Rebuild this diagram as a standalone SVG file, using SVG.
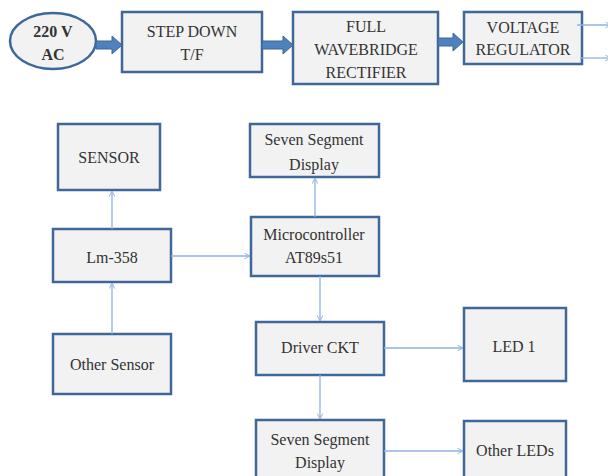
<svg xmlns="http://www.w3.org/2000/svg" width="608" height="476" viewBox="0 0 608 476">
<defs>
<style>
.box{fill:#f2f2f2;stroke:#3e6899;stroke-width:2.5}
.t{font-family:'Liberation Serif','DejaVu Serif',serif;font-size:16px;fill:#333;text-anchor:middle}
.b{font-weight:bold}
.c{fill:none;stroke:#8db3e2;stroke-width:1.3}
.fat{fill:#4f81bd;stroke:#3b679c;stroke-width:1}
</style>
<marker id="ah" viewBox="0 0 10 10" refX="9" refY="5" markerWidth="7" markerHeight="7" markerUnits="userSpaceOnUse" orient="auto">
<path d="M1,1 L9,5 L1,9" fill="none" stroke="#8db3e2" stroke-width="1.4"/>
</marker>
</defs>
<rect width="608" height="476" fill="#ffffff"/>
<g id="ac">
<ellipse cx="53" cy="41" rx="43" ry="28" class="box"/>
<text class="t b" x="53" y="37" font-family="Liberation Serif">220 V</text>
<text class="t b" x="53" y="60" font-family="Liberation Serif">AC</text>
</g>
<g id="stepdown">
<rect x="122" y="12" width="140" height="60" class="box"/>
<text class="t" x="192" y="37">STEP DOWN</text>
<text class="t" x="192" y="60">T/F</text>
</g>
<g id="rectifier">
<rect x="293" y="12" width="145" height="72" class="box"/>
<text class="t" x="366" y="32">FULL</text>
<text class="t" x="366" y="55">WAVEBRIDGE</text>
<text class="t" x="366" y="78">RECTIFIER</text>
</g>
<g id="regulator">
<rect x="464" y="12" width="118" height="52" class="box"/>
<text class="t" x="523" y="33">VOLTAGE</text>
<text class="t" x="523" y="55">REGULATOR</text>
</g>
<g id="sensor">
<rect x="58" y="124" width="102" height="66" class="box"/>
<text class="t" x="109" y="163">SENSOR</text>
</g>
<g id="ssd1">
<rect x="250" y="124" width="129" height="53" class="box"/>
<text class="t" x="314" y="145">Seven Segment</text>
<text class="t" x="314" y="170">Display</text>
</g>
<g id="lm358">
<rect x="53" y="229" width="118" height="53" class="box"/>
<text class="t" x="112" y="263">Lm-358</text>
</g>
<g id="mcu">
<rect x="251" y="217" width="128" height="59" class="box"/>
<text class="t" x="314" y="240">Microcontroller</text>
<text class="t" x="314" y="263">AT89s51</text>
</g>
<g id="othersensor">
<rect x="53" y="334" width="118" height="60" class="box"/>
<text class="t" x="112" y="370">Other Sensor</text>
</g>
<g id="driver">
<rect x="256" y="322" width="128" height="53" class="box"/>
<text class="t" x="320" y="353">Driver CKT</text>
</g>
<g id="led1">
<rect x="464" y="308" width="102" height="73" class="box"/>
<text class="t" x="514" y="352">LED 1</text>
</g>
<g id="ssd2">
<rect x="256" y="420" width="128" height="62" class="box"/>
<text class="t" x="320" y="445">Seven Segment</text>
<text class="t" x="320" y="468">Display</text>
</g>
<g id="otherleds">
<rect x="464" y="421" width="102" height="62" class="box"/>
<text class="t" x="515" y="456">Other LEDs</text>
</g>
<g id="connectors">
<path class="fat" d="M96,41 H112 V36 L122,45 L112,54 V49 H96 Z"/>
<path class="fat" d="M262,41 H283 V36 L293,45 L283,54 V49 H262 Z"/>
<path class="fat" d="M438,38 H453 V33 L463,42 L453,51 V46 H438 Z"/>
<line class="c" x1="577" y1="25" x2="611" y2="25" marker-end="url(#ah)"/>
<line class="c" x1="580" y1="58" x2="611" y2="58" marker-end="url(#ah)"/>
<line class="c" x1="112" y1="229" x2="112" y2="191" marker-end="url(#ah)"/>
<line class="c" x1="315" y1="217" x2="315" y2="178" marker-end="url(#ah)"/>
<line class="c" x1="171" y1="256" x2="250" y2="256" marker-end="url(#ah)"/>
<line class="c" x1="112" y1="334" x2="112" y2="283" marker-end="url(#ah)"/>
<line class="c" x1="320" y1="276" x2="320" y2="321" marker-end="url(#ah)"/>
<line class="c" x1="384" y1="348" x2="463" y2="348" marker-end="url(#ah)"/>
<line class="c" x1="320" y1="375" x2="320" y2="419" marker-end="url(#ah)"/>
<line class="c" x1="384" y1="451" x2="463" y2="451" marker-end="url(#ah)"/>
</g>
</svg>
